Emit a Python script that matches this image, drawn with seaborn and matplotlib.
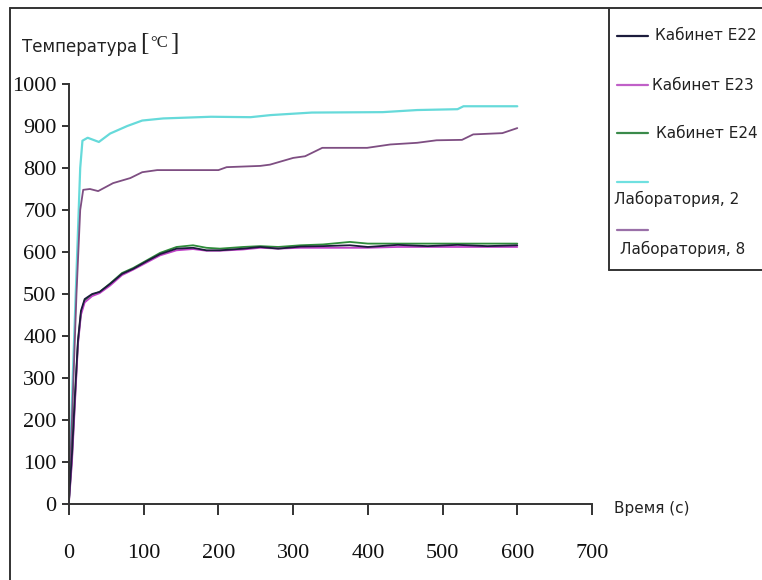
import matplotlib
matplotlib.use("Agg")
import matplotlib.pyplot as plt
from matplotlib.lines import Line2D
import numpy as np
import pandas as pd
import seaborn as sns

# ---------------- data ----------------
series_names = ["Кабинет E22", "Кабинет E23", "Кабинет E24", "Лаборатория, 2", "Лаборатория, 8"]

t_room = [0, 4, 8, 12, 16, 21, 31, 41, 55, 71, 86, 104, 122, 144, 166, 184, 202, 233,
          256, 280, 310, 340, 376, 400, 440, 480, 520, 560, 600]
temp_e22 = [10, 120, 260, 390, 460, 488, 500, 505, 524, 548, 560, 578, 595, 608, 610, 604,
            604, 608, 612, 608, 613, 614, 616, 612, 617, 614, 617, 614, 616]
temp_e23 = [5, 100, 240, 380, 450, 480, 495, 502, 520, 545, 558, 575, 592, 604, 607, 603,
            603, 606, 610, 608, 610, 610, 610, 610, 612, 612, 612, 612, 612]
temp_e24 = [8, 110, 250, 385, 455, 485, 498, 505, 525, 550, 562, 580, 598, 612, 616, 610,
            608, 612, 614, 612, 616, 618, 624, 620, 620, 620, 620, 620, 620]

t_lab2 = [0, 5, 10, 15, 18, 25, 40, 55, 78, 98, 126, 190, 243, 270, 325, 420, 466, 520, 528, 600]
temp_lab2 = [20, 300, 550, 800, 865, 872, 862, 882, 900, 913, 918, 922, 921, 926, 932, 933,
             938, 940, 947, 947]

t_lab8 = [0, 5, 10, 15, 19, 28, 39, 59, 82, 98, 118, 200, 211, 256, 269, 300, 316, 339, 399,
          430, 466, 492, 526, 541, 580, 600]
temp_lab8 = [10, 250, 500, 700, 748, 750, 745, 764, 776, 790, 795, 795, 802, 805, 808, 824,
             828, 848, 848, 856, 860, 866, 867, 880, 883, 895]

x_ticks = [0, 100, 200, 300, 400, 500, 600, 700]
y_ticks = [0, 100, 200, 300, 400, 500, 600, 700, 800, 900, 1000]
x_label = "Время (с)"
y_label_word = "Температура"
y_label_unit = "°C"

colors = {
    "Кабинет E22": "#1c1c3c",
    "Кабинет E23": "#c040c8",
    "Кабинет E24": "#2e8b3a",
    "Лаборатория, 2": "#66dada",
    "Лаборатория, 8": "#7e4e82",
}
legend_colors = {
    "Кабинет E22": "#1c1c3c",
    "Кабинет E23": "#c060c8",
    "Кабинет E24": "#3a8a4a",
    "Лаборатория, 2": "#6fe0e0",
    "Лаборатория, 8": "#9a70a8",
}

frames = [
    pd.DataFrame({"t": t_lab2, "T": temp_lab2, "s": "Лаборатория, 2"}),
    pd.DataFrame({"t": t_lab8, "T": temp_lab8, "s": "Лаборатория, 8"}),
    pd.DataFrame({"t": t_room, "T": temp_e24, "s": "Кабинет E24"}),
    pd.DataFrame({"t": t_room, "T": temp_e23, "s": "Кабинет E23"}),
    pd.DataFrame({"t": t_room, "T": temp_e22, "s": "Кабинет E22"}),
]
df = pd.concat(frames, ignore_index=True)

# ---------------- style ----------------
sns.set_style("white")
plt.rcParams["font.family"] = ["DejaVu Sans"]

W, H = 762, 580
fig = plt.figure(figsize=(W / 100, H / 100), dpi=100)
fig.patch.set_facecolor("white")

x0, x1 = 69, 592
y0, y1 = 504, 84
ax = fig.add_axes([x0 / W, (H - y0) / H, (x1 - x0) / W, (y0 - y1) / H])

for name in ["Лаборатория, 2", "Лаборатория, 8", "Кабинет E24", "Кабинет E23", "Кабинет E22"]:
    sub = df[df["s"] == name]
    lw = 1.6 if name == "Лаборатория, 2" else 1.3
    sns.lineplot(data=sub, x="t", y="T", ax=ax, color=colors[name], linewidth=lw,
                 legend=False, sort=False)

ax.set_xlim(0, 700)
ax.set_ylim(0, 1000)
ax.set_xticks(x_ticks)
ax.set_yticks(y_ticks)
ax.set_xlabel("")
ax.set_ylabel("")
for side in ["top", "right"]:
    ax.spines[side].set_visible(False)
for side in ["left", "bottom"]:
    ax.spines[side].set_color("#333333")
    ax.spines[side].set_linewidth(1.4)
ax.tick_params(axis="x", direction="out", length=8, width=1.4, color="#333333", pad=21,
               labelsize=16, labelcolor="#111111")
ax.tick_params(axis="y", direction="out", length=5, width=1.4, color="#333333", pad=4,
               labelsize=16, labelcolor="#111111")
ax.tick_params(left=True, bottom=True)
for lab in ax.get_xticklabels() + ax.get_yticklabels():
    lab.set_fontfamily("Liberation Serif")
ax.set_facecolor("white")
ax.set_clip_on(False)

# ---------------- axis titles ----------------
def fx(px):
    return px / W

def fy(py):
    return 1 - py / H

fig.text(fx(22), fy(47), y_label_word, fontsize=12, family="DejaVu Sans",
         ha="left", va="center", color="#222222")
fig.text(fx(140), fy(44), "[", fontsize=18, family="Liberation Serif",
         ha="left", va="center", color="#222222")
fig.text(fx(150), fy(43), y_label_unit, fontsize=12, family="Liberation Serif",
         ha="left", va="center", color="#222222")
fig.text(fx(170), fy(44), "]", fontsize=18, family="Liberation Serif",
         ha="left", va="center", color="#222222")
fig.text(fx(614), fy(508), x_label, fontsize=11, family="DejaVu Sans",
         ha="left", va="center", color="#222222")

# ---------------- frames ----------------
frame_kw = dict(color="#333333", linewidth=1.4, transform=fig.transFigure)
fig.add_artist(Line2D([fx(10), fx(10)], [fy(8), fy(580)], **frame_kw))
fig.add_artist(Line2D([fx(10), fx(762)], [fy(8), fy(8)], **frame_kw))
fig.add_artist(Line2D([fx(609), fx(609)], [fy(8), fy(270)], **frame_kw))
fig.add_artist(Line2D([fx(609), fx(762)], [fy(270), fy(270)], **frame_kw))

# ---------------- legend (hand-laid, as in the source) ----------------
leg_rows = [
    ("Кабинет E22", 36, 36, 655),
    ("Кабинет E23", 85, 85, 652),
    ("Кабинет E24", 133, 133, 656),
    ("Лаборатория, 2", 182, 199, 614),
    ("Лаборатория, 8", 230, 249, 620),
]
for name, ly, ty, tx in leg_rows:
    fig.add_artist(Line2D([fx(617), fx(648)], [fy(ly), fy(ly)], color=legend_colors[name],
                          linewidth=1.6, transform=fig.transFigure))
    fig.text(fx(tx), fy(ty), name, fontsize=11, family="DejaVu Sans", ha="left",
             va="center", color="#222222")

fig.savefig("out.png", dpi=100, facecolor="white")
